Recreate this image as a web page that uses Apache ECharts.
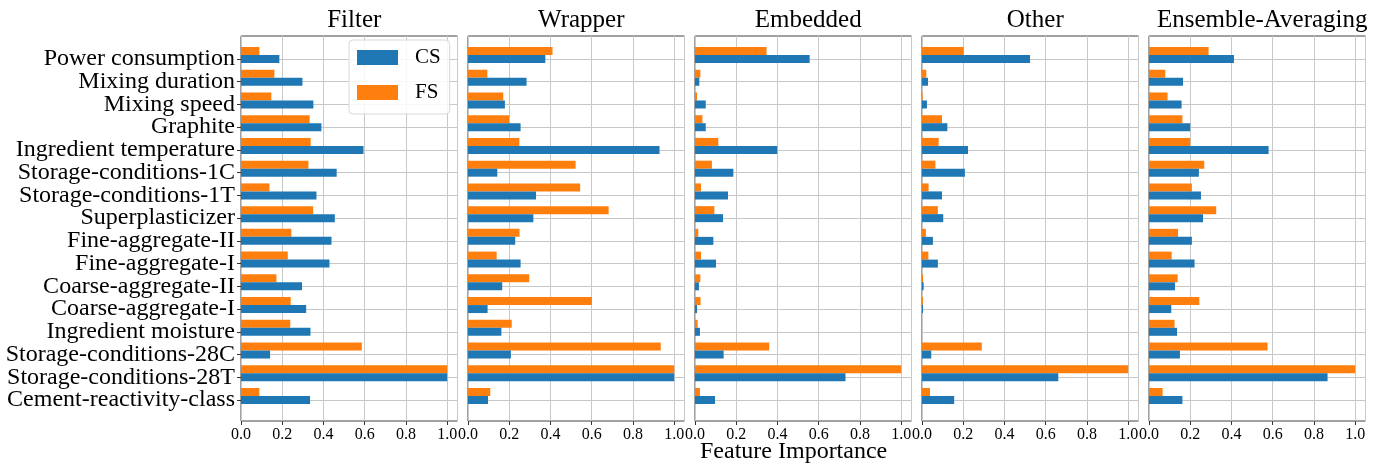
<!DOCTYPE html>
<html>
<head>
<meta charset="utf-8">
<script src="https://cdn.jsdelivr.net/npm/echarts@6/dist/echarts.min.js"></script>
<style>
  html, body { margin: 0; padding: 0; background: #fff; }
  #main { width: 1382px; height: 470px; }
</style>
</head>
<body>
<div id="main"></div>
<script>
var categories = [
  'Power consumption', 'Mixing duration', 'Mixing speed', 'Graphite',
  'Ingredient temperature', 'Storage-conditions-1C', 'Storage-conditions-1T',
  'Superplasticizer', 'Fine-aggregate-II', 'Fine-aggregate-I',
  'Coarse-aggregate-II', 'Coarse-aggregate-I', 'Ingredient moisture',
  'Storage-conditions-28C', 'Storage-conditions-28T', 'Cement-reactivity-class'
];
var methods = ['Filter', 'Wrapper', 'Embedded', 'Other', 'Ensemble-Averaging'];
var xTicks = [0, 0.2, 0.4, 0.6, 0.8, 1.0];

var filterCS = [0.186, 0.298, 0.351, 0.390, 0.594, 0.464, 0.366, 0.455, 0.439, 0.429, 0.296, 0.316, 0.337, 0.141, 1.0, 0.335];
var filterFS = [0.089, 0.162, 0.147, 0.333, 0.338, 0.327, 0.138, 0.350, 0.244, 0.227, 0.172, 0.241, 0.239, 0.586, 1.0, 0.089];
var wrapperCS = [0.375, 0.284, 0.179, 0.255, 0.929, 0.142, 0.330, 0.317, 0.229, 0.255, 0.166, 0.095, 0.162, 0.208, 1.0, 0.097];
var wrapperFS = [0.410, 0.094, 0.171, 0.200, 0.249, 0.522, 0.544, 0.682, 0.250, 0.139, 0.297, 0.601, 0.212, 0.935, 1.0, 0.108];
var embeddedCS = [0.556, 0.021, 0.052, 0.052, 0.399, 0.186, 0.160, 0.136, 0.089, 0.102, 0.019, 0.010, 0.024, 0.139, 0.730, 0.097];
var embeddedFS = [0.347, 0.026, 0.010, 0.036, 0.113, 0.082, 0.029, 0.094, 0.016, 0.029, 0.026, 0.027, 0.013, 0.360, 1.0, 0.024];
var otherCS = [0.524, 0.029, 0.024, 0.123, 0.223, 0.208, 0.097, 0.103, 0.053, 0.077, 0.008, 0.005, 0.0, 0.045, 0.661, 0.156];
var otherFS = [0.202, 0.021, 0.003, 0.097, 0.081, 0.065, 0.032, 0.077, 0.019, 0.031, 0.005, 0.005, 0.0, 0.290, 1.0, 0.039];
var ensembleCS = [0.412, 0.165, 0.158, 0.200, 0.580, 0.242, 0.252, 0.262, 0.208, 0.221, 0.126, 0.108, 0.136, 0.150, 0.866, 0.162];
var ensembleFS = [0.289, 0.079, 0.090, 0.162, 0.200, 0.268, 0.208, 0.326, 0.141, 0.110, 0.139, 0.244, 0.124, 0.575, 1.0, 0.066];

var csByMethod = [filterCS, wrapperCS, embeddedCS, otherCS, ensembleCS];
var fsByMethod = [filterFS, wrapperFS, embeddedFS, otherFS, ensembleFS];

var font = "'Liberation Serif', 'DejaVu Serif', serif";
var panelLeft = [241, 468, 695, 922, 1149];
var panelWidth = 216.5;

var chart = echarts.init(document.getElementById('main'));

var grid = [], xAxis = [], yAxis = [], series = [], title = [];

methods.forEach(function (m, i) {
  var left = panelLeft[i];
  // frame grid: border, x ticks and vertical grid lines
  grid.push({
    left: left, width: panelWidth, top: 36, height: 385,
    show: true, borderColor: '#444', borderWidth: 1, backgroundColor: 'transparent',
    outerBoundsMode: 'none'
  });
  // bar grid: first/last category sit on the first/last tick
  grid.push({
    left: left, width: panelWidth, top: 59, height: 341,
    outerBoundsMode: 'none'
  });

  xAxis.push({
    type: 'value', gridIndex: 2 * i, min: 0, max: 1.05, interval: 0.2,
    axisLine: { show: false },
    axisTick: { show: true, length: 4, lineStyle: { color: '#333' } },
    axisLabel: {
      showMaxLabel: false, margin: 6, color: '#000', fontFamily: font, fontSize: 16,
      formatter: function (v) { return v > 1.001 ? '' : v.toFixed(1); }
    },
    splitLine: { show: true, lineStyle: { color: '#c8c8c8', width: 1 } }
  });
  xAxis.push({ type: 'value', gridIndex: 2 * i + 1, min: 0, max: 1.05, show: false });

  yAxis.push({ type: 'value', gridIndex: 2 * i, show: false });
  yAxis.push({
    type: 'category', gridIndex: 2 * i + 1, data: categories, inverse: true,
    boundaryGap: false,
    axisLine: { show: false },
    axisTick: { show: i === 0, length: 4, interval: 0, lineStyle: { color: '#333' } },
    axisLabel: {
      show: i === 0, interval: 0, margin: 6, color: '#000',
      fontFamily: font, fontSize: 24
    },
    splitLine: { show: true, interval: 0, lineStyle: { color: '#c8c8c8', width: 1 } }
  });

  title.push({
    text: m, left: left + panelWidth / 2, textAlign: 'center', top: 3,
    textStyle: { fontFamily: font, fontSize: 25, fontWeight: 'normal', color: '#000' }
  });

  // FS above, CS centred on the tick, empty spacer below
  series.push({
    type: 'bar', name: 'FS', xAxisIndex: 2 * i + 1, yAxisIndex: 2 * i + 1,
    data: fsByMethod[i], barWidth: 8, barGap: '0%', clip: false,
    itemStyle: { color: '#ff7f0e' }
  });
  series.push({
    type: 'bar', name: 'CS', xAxisIndex: 2 * i + 1, yAxisIndex: 2 * i + 1,
    data: csByMethod[i], barWidth: 8, barGap: '0%', clip: false,
    itemStyle: { color: '#1f77b4' }
  });
  series.push({
    type: 'bar', name: 'spacer', xAxisIndex: 2 * i + 1, yAxisIndex: 2 * i + 1,
    data: [], barWidth: 8, barGap: '0%'
  });
});

var option = {
  animation: false,
  backgroundColor: '#fff',
  title: title,
  grid: grid,
  xAxis: xAxis,
  yAxis: yAxis,
  legend: {
    data: ['CS', 'FS'],
    orient: 'vertical',
    left: 349, top: 40,
    icon: 'rect',
    itemWidth: 41, itemHeight: 15, itemGap: 14,
    padding: [7, 9, 11, 8],
    backgroundColor: 'rgba(255,255,255,0.85)',
    borderColor: '#d8d8d8', borderWidth: 1, borderRadius: 4,
    selectedMode: false,
    textStyle: { fontFamily: font, fontSize: 21, color: '#000', lineHeight: 15, padding: [0, 0, 0, 12] }
  },
  graphic: [{
    type: 'text', left: 700, top: 440,
    style: { text: 'Feature Importance', font: '24px ' + font, fill: '#000' }
  }],
  series: series
};

chart.setOption(option);
window.addEventListener('resize', function () { chart.resize(); });
</script>
</body>
</html>
